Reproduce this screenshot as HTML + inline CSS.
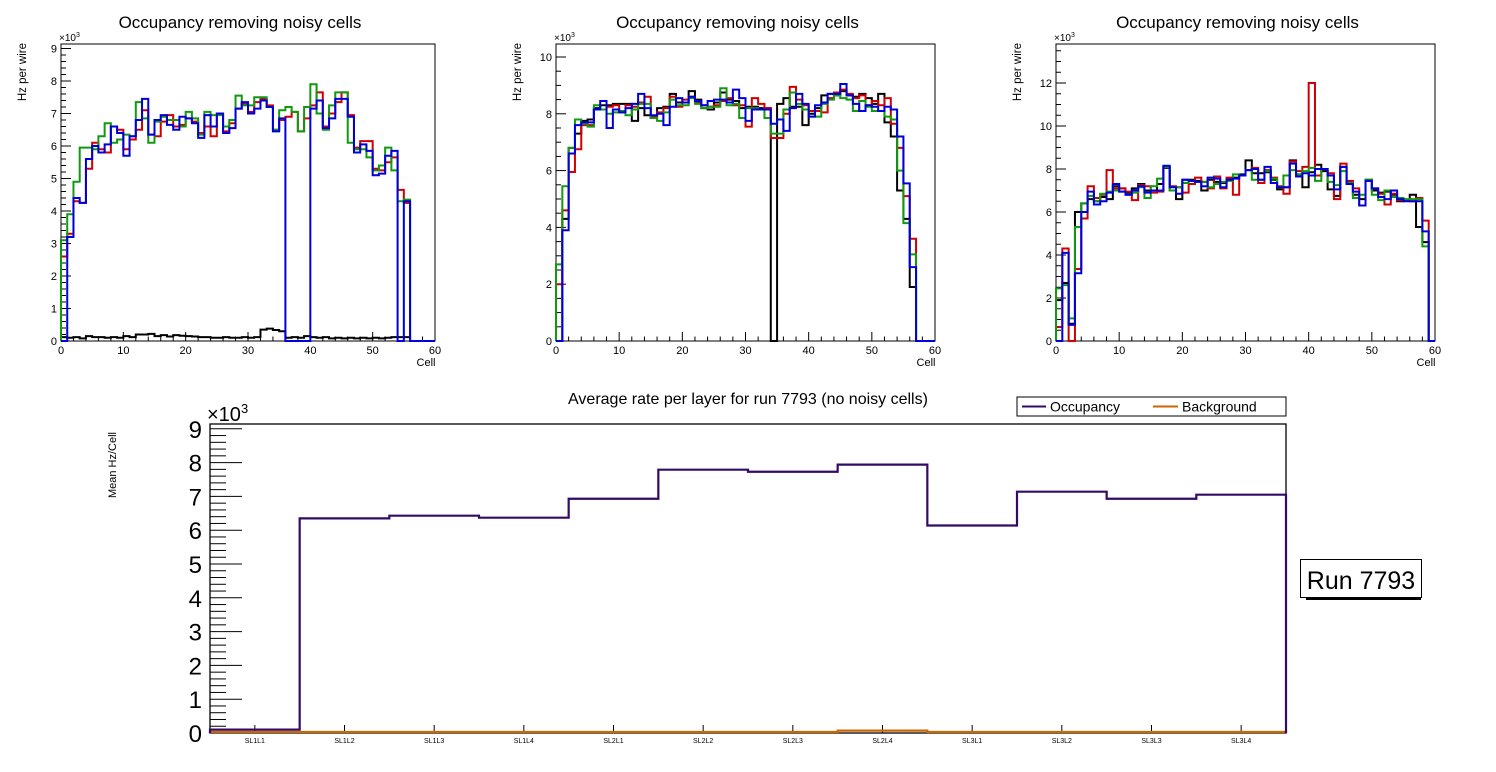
<!DOCTYPE html>
<html><head><meta charset="utf-8"><title>Occupancy</title>
<style>
html,body{margin:0;padding:0;background:#fff;}
svg{display:block;font-family:"Liberation Sans",Arial,sans-serif;}
</style></head>
<body>
<svg id="c" width="1496" height="772" viewBox="0 0 1496 772" xmlns="http://www.w3.org/2000/svg"></svg>
<script>
// ---------- data (values in units of 10^3 Hz) ----------
const cells1Black = [0.12,0.1,0.12,0.08,0.15,0.12,0.12,0.1,0.12,0.1,0.15,0.12,0.2,0.2,0.22,0.15,0.18,0.14,0.18,0.16,0.15,0.14,0.12,0.12,0.1,0.1,0.12,0.1,0.1,0.12,0.1,0.12,0.35,0.38,0.34,0.3,0.1,0.12,0.1,0.15,0.12,0.1,0.12,0.08,0.1,0.08,0.1,0.08,0.1,0.08,0.1,0.08,0.1,0.12,0.12,0.12,0,0,0,0];
const cells1Red   = [2.6,3.3,4.3,4.25,5.3,6.1,5.9,5.8,6.6,6.5,5.9,6.2,6.5,7.1,6.35,6.3,6.75,6.95,6.6,6.65,6.85,6.75,6.4,6.6,6.3,7.0,6.45,6.7,7.15,7.3,7.05,7.35,7.45,7.25,6.5,6.8,6.9,7.05,6.45,6.85,7.25,7.65,6.6,7.0,7.35,7.65,6.95,5.95,6.15,6.15,5.3,5.25,5.5,5.65,4.65,4.25,0,0,0,0];
const cells1Green = [3.1,3.9,4.9,5.95,5.95,5.9,6.3,6.7,6.1,6.2,6.35,6.3,7.35,6.85,6.1,6.75,6.9,6.8,6.8,6.6,7.05,6.85,6.35,7.05,6.95,6.95,6.6,6.8,7.55,7.25,7.25,7.5,7.5,7.2,6.5,7.1,7.2,7.05,6.45,7.2,7.9,7.0,6.5,7.25,7.65,7.65,6.1,5.9,5.9,5.65,5.25,5.4,5.95,5.25,4.3,4.35,0,0,0,0];
const cells1Blue  = [0,3.2,4.4,4.25,5.6,6.0,5.8,6.05,6.6,6.4,5.7,6.3,6.8,7.45,6.35,6.8,6.95,6.65,6.5,6.9,6.85,6.7,6.25,6.95,6.6,7.0,6.4,6.55,7.15,7.35,7.0,7.15,7.4,7.2,6.45,6.85,0,0,0,0,7.15,7.4,6.55,6.85,7.45,7.45,6.9,5.8,6.05,5.85,5.1,5.15,5.7,5.85,0,4.3,0,0,0,0];

const cells2Black = [0,4.3,6.8,7.3,7.75,7.8,8.2,8.3,8.3,8.35,8.35,8.35,7.75,8.2,7.95,7.85,8.2,8.25,8.7,8.4,8.4,8.8,8.5,8.2,8.15,8.4,8.75,8.5,8.45,8.2,8.25,8.25,8.2,8.2,0,8.35,8.55,8.25,8.25,7.6,8.0,8.2,8.65,8.7,8.65,8.8,8.65,8.6,8.7,8.55,8.35,8.7,7.7,7.2,5.3,4.3,1.9,0,0,0];
const cells2Red   = [2.0,4.6,5.95,6.75,7.6,7.6,8.15,8.15,8.25,8.3,8.05,8.3,8.25,8.4,8.6,7.9,8.05,8.2,8.6,8.25,8.5,8.6,8.4,8.3,8.25,8.3,8.45,8.55,8.3,8.3,7.55,8.55,8.35,8.2,7.15,7.15,8.0,8.95,8.5,8.3,8.1,8.1,8.05,8.55,8.75,8.85,8.7,8.55,8.65,8.3,8.45,8.3,8.55,7.65,6.8,5.1,3.6,0,0,0];
const cells2Green = [2.7,5.45,6.8,7.8,7.65,7.55,8.3,8.15,8.0,8.05,8.1,7.95,8.15,8.35,8.35,7.85,7.75,8.05,8.5,8.3,8.3,8.55,8.35,8.2,8.25,8.25,8.9,8.3,8.35,7.85,8.2,8.2,8.15,7.85,7.3,7.3,8.15,8.75,8.35,8.15,7.9,7.9,8.35,8.5,8.65,8.55,8.5,8.1,8.45,8.25,8.1,8.1,7.9,7.8,6.0,4.15,3.05,0,0,0];
const cells2Blue  = [0,3.9,6.6,7.6,7.7,7.7,8.15,8.45,7.5,8.15,8.05,8.2,8.35,8.7,8.2,7.95,8.0,7.6,8.25,8.55,8.4,8.6,8.45,8.3,8.45,8.5,8.5,8.4,8.85,8.55,7.75,8.15,8.15,8.15,7.65,7.8,7.4,8.2,8.7,8.35,7.9,8.3,8.4,8.7,8.7,9.05,8.65,8.35,8.1,8.3,8.25,8.1,8.25,8.15,7.2,5.55,2.6,0,0,0];

const cells3Black = [1.9,2.7,0.8,6.0,6.4,6.6,6.5,6.7,6.6,7.2,7.1,6.9,7.1,7.3,7.0,7.0,7.3,8.05,7.0,6.6,7.5,7.5,7.45,7.0,7.5,7.4,7.35,7.55,7.6,7.75,8.4,7.8,7.8,7.85,7.5,7.05,7.15,8.4,7.75,7.15,7.85,8.2,7.9,7.05,6.75,8.1,7.4,6.8,6.6,7.5,7.0,6.9,6.95,6.8,6.5,6.55,6.8,5.3,4.6,0];
const cells3Red   = [0.65,4.3,0,3.35,5.7,7.2,6.65,6.8,7.95,7.1,7.1,6.95,6.55,7.25,7.2,6.9,6.95,8.1,7.2,7.15,6.9,7.3,7.6,7.4,7.1,7.65,7.1,7.6,6.8,7.7,7.95,8.05,7.35,7.95,7.6,7.2,6.85,8.35,7.9,8.1,12.0,7.7,8.0,7.8,6.6,8.25,7.45,7.1,6.3,7.45,7.1,6.85,6.35,6.85,6.55,6.55,6.5,6.65,5.6,0];
const cells3Green = [2.45,2.6,1.05,5.3,6.4,6.75,6.5,6.85,6.95,7.0,6.95,6.8,6.9,7.15,6.65,7.2,7.55,8.1,7.0,7.15,7.35,7.45,7.4,7.4,7.15,7.3,7.4,7.45,7.75,7.7,7.95,7.5,7.5,7.9,7.55,7.15,7.7,7.95,7.75,7.9,8.05,7.45,8.0,7.4,7.25,7.9,7.35,6.65,6.8,7.5,6.8,6.55,7.0,6.7,6.65,6.6,6.6,6.6,4.4,0];
const cells3Blue  = [0,4.1,0.75,3.15,6.0,6.95,6.35,6.5,6.9,7.3,6.95,6.8,7.0,7.2,6.9,7.0,7.0,8.15,7.15,6.85,7.5,7.45,7.4,7.2,7.6,7.55,7.15,7.5,7.55,7.7,7.95,8.0,7.5,8.1,7.35,7.15,7.15,8.25,7.65,7.8,7.7,8.0,8.0,7.7,7.05,8.1,7.3,6.95,6.3,7.45,7.1,6.7,6.6,7.0,6.6,6.5,6.5,6.5,5.1,0];

const layers = ["SL1L1","SL1L2","SL1L3","SL1L4","SL2L1","SL2L2","SL2L3","SL2L4","SL3L1","SL3L2","SL3L3","SL3L4"];
const occupancy = [0.1,6.35,6.43,6.37,6.93,7.79,7.73,7.94,6.14,7.14,6.93,7.05];
const background = [0.03,0.03,0.03,0.03,0.03,0.03,0.03,0.07,0.03,0.03,0.03,0.03];

const topXTicks = ["0","10","20","30","40","50","60"];
const plot1YTicks = ["0","1","2","3","4","5","6","7","8","9"];
const plot2YTicks = ["0","2","4","6","8","10"];
const plot3YTicks = ["0","2","4","6","8","10","12"];
const bottomYTicks = ["0","1","2","3","4","5","6","7","8","9"];

// ---------- drawing ----------
const NS = "http://www.w3.org/2000/svg";
const svg = document.getElementById("c");
function mk(tag, attrs, parent){
  const e = document.createElementNS(NS, tag);
  for (const k in attrs) e.setAttribute(k, attrs[k]);
  (parent||svg).appendChild(e);
  return e;
}
function txt(s, x, y, size, anchor, parent){
  const t = mk("text", {x:x, y:y, "font-size":size, "text-anchor":anchor||"start", fill:"#000"}, parent);
  t.textContent = s;
  return t;
}
function stepPath(vals, xs, ys, nb){
  let d = "M" + xs(0) + "," + ys(0);
  for (let i=0;i<nb;i++){
    const v = vals[i]||0;
    d += " L" + xs(i) + "," + ys(v) + " L" + xs(i+1) + "," + ys(v);
  }
  d += " L" + xs(nb) + "," + ys(0);
  return d;
}

function topPlot(cfg){
  const g = mk("g", {});
  
  
  const {x0,x1,y0,yTop} = cfg;
  const xs = c => x0 + (x1-x0)*c/60;
  const ys = v => y0 - v*cfg.ppu;
  const frame = mk("rect", {x:x0, y:yTop, width:x1-x0, height:y0-yTop, fill:"none", stroke:"#000", "stroke-width":1}, g);
  
  
  const yAxis = mk("g", {}, g);
  
  
  const step = cfg.yMajor, minor = cfg.yMinor;
  for (let v=0; ys(v) >= yTop-0.1; v = +(v+minor).toFixed(3)){
    const isMaj = Math.abs(v/step - Math.round(v/step))<1e-6;
    mk("line", {x1:x0, x2:x0+(isMaj?10:5), y1:ys(v), y2:ys(v), stroke:"#000", "stroke-width":1}, yAxis);
  }
  cfg.yLabels.forEach((s,i)=>{ const t = txt(s, x0-4, ys(i*step)+4, 11, "end", yAxis);
      });
  const ex = txt("×10", x0-2, yTop-3, 10, "start", g);
   
  const sup = mk("tspan", {dy:-4, "font-size":7}, ex); sup.textContent = "3";
  const xAxis = mk("g", {}, g);
  
  
  for (let c=0;c<=60;c+=2){
    const maj = c%10===0;
    mk("line", {x1:xs(c), x2:xs(c), y1:y0, y2:y0-(maj?9:4.5), stroke:"#000", "stroke-width":1}, xAxis);
  }
  topXTicks.forEach((s,i)=>{ const t = txt(s, xs(i*10), y0+13, 11, "middle", xAxis);
      });
  const xt = txt("Cell", x1-9, y0+25, 11, "middle", g);
   
  const yt = txt("Hz per wire", 0, 0, 11.5, "end", g);
  yt.setAttribute("transform", "translate("+(x0-35)+",43) rotate(-90)");
   
  const tt = txt("Occupancy removing noisy cells", (x0+x1)/2 - 8, 28, 17, "middle", g);
   
  const cols = ["#000000","#d00000","#119911","#0000dd"];
  const names = ["series-black","series-red","series-green","series-blue"];
  cfg.series.forEach((vals,k)=>{
    const p = mk("path", {d:stepPath(vals,xs,ys,60), fill:"none", stroke:cols[k], "stroke-width":2, "stroke-linejoin":"miter"}, g);
    
    
  });
}

topPlot({name:"occupancy-plot-1", x0:61, x1:435, y0:341, yTop:44, ppu:32.5, yMajor:1, yMinor:0.2, yLabels:plot1YTicks,
  series:[cells1Black,cells1Red,cells1Green,cells1Blue]});
topPlot({name:"occupancy-plot-2", x0:556, x1:935, y0:341, yTop:44, ppu:28.4, yMajor:2, yMinor:0.5, yLabels:plot2YTicks,
  series:[cells2Black,cells2Red,cells2Green,cells2Blue]});
topPlot({name:"occupancy-plot-3", x0:1056, x1:1435, y0:341, yTop:44, ppu:21.5, yMajor:2, yMinor:0.5, yLabels:plot3YTicks,
  series:[cells3Black,cells3Red,cells3Green,cells3Blue]});

(function(){
  const g = mk("g", {});
  
  
  const x0=210, x1=1286, y0=733, yTop=424, ppu=33.8, nb=layers.length;
  const xs = i => x0 + (x1-x0)*i/nb;
  const ys = v => y0 - v*ppu;
  const fr = mk("rect", {x:x0, y:yTop, width:x1-x0, height:y0-yTop, fill:"none", stroke:"#000", "stroke-width":1.3}, g);
   
  const yAxis = mk("g", {}, g);
   
  for (let v=0; ys(v)>=yTop-0.1; v=+(v+0.2).toFixed(3)){
    const maj = Math.abs(v-Math.round(v))<1e-6;
    mk("line", {x1:x0, x2:x0+(maj?32:16), y1:ys(v), y2:ys(v), stroke:"#000", "stroke-width":1}, yAxis);
  }
  bottomYTicks.forEach((s,i)=>{ const t = txt(s, x0-8, ys(i)+9, 24, "end", yAxis);
      });
  const ex = txt("×10", x0-3, yTop-3, 20, "start", g);
   
  const sup = mk("tspan", {dy:-8, "font-size":13}, ex); sup.textContent = "3";
  const xAxis = mk("g", {}, g);
   
  layers.forEach((s,i)=>{
    const cx = (xs(i)+xs(i+1))/2;
    mk("line", {x1:cx, x2:cx, y1:y0, y2:y0-8, stroke:"#000", "stroke-width":1}, xAxis);
    const t = txt(s, cx, y0+10, 7, "middle", xAxis);
     
  });
  const yt = txt("Mean Hz/Cell", 0, 0, 11, "middle", g);
  yt.setAttribute("transform","translate(116,465) rotate(-90)");
   
  const tt = txt("Average rate per layer for run 7793 (no noisy cells)", 748, 404, 16, "middle", g);
   
  const pb = mk("path", {d:stepPath(background,xs,ys,nb), fill:"none", stroke:"#cc6600", "stroke-width":2.2}, g);
   
  const po = mk("path", {d:stepPath(occupancy,xs,ys,nb), fill:"none", stroke:"#330a66", "stroke-width":2.2}, g);
   
  const lg = mk("g", {}, g);
   
  mk("rect", {x:1017, y:397, width:269, height:19, fill:"#fff", stroke:"#000", "stroke-width":1}, lg);
  const e1 = mk("g", {}, lg);
   
  mk("line", {x1:1022, x2:1046, y1:406.5, y2:406.5, stroke:"#330a66", "stroke-width":2}, e1);
  txt("Occupancy", 1050, 411.5, 14, "start", e1);
  const e2 = mk("g", {}, lg);
   
  mk("line", {x1:1153, x2:1178, y1:406.5, y2:406.5, stroke:"#cc6600", "stroke-width":2}, e2);
  txt("Background", 1182, 411.5, 14, "start", e2);
  const rb = mk("g", {});
   
  mk("rect", {x:1306, y:596, width:115, height:4, fill:"#000"}, rb);
  mk("rect", {x:1300.5, y:559.5, width:121, height:38, fill:"#fff", stroke:"#000", "stroke-width":1}, rb);
  txt("Run 7793", 1361, 589, 25, "middle", rb);
})();
</script>
</body></html>
